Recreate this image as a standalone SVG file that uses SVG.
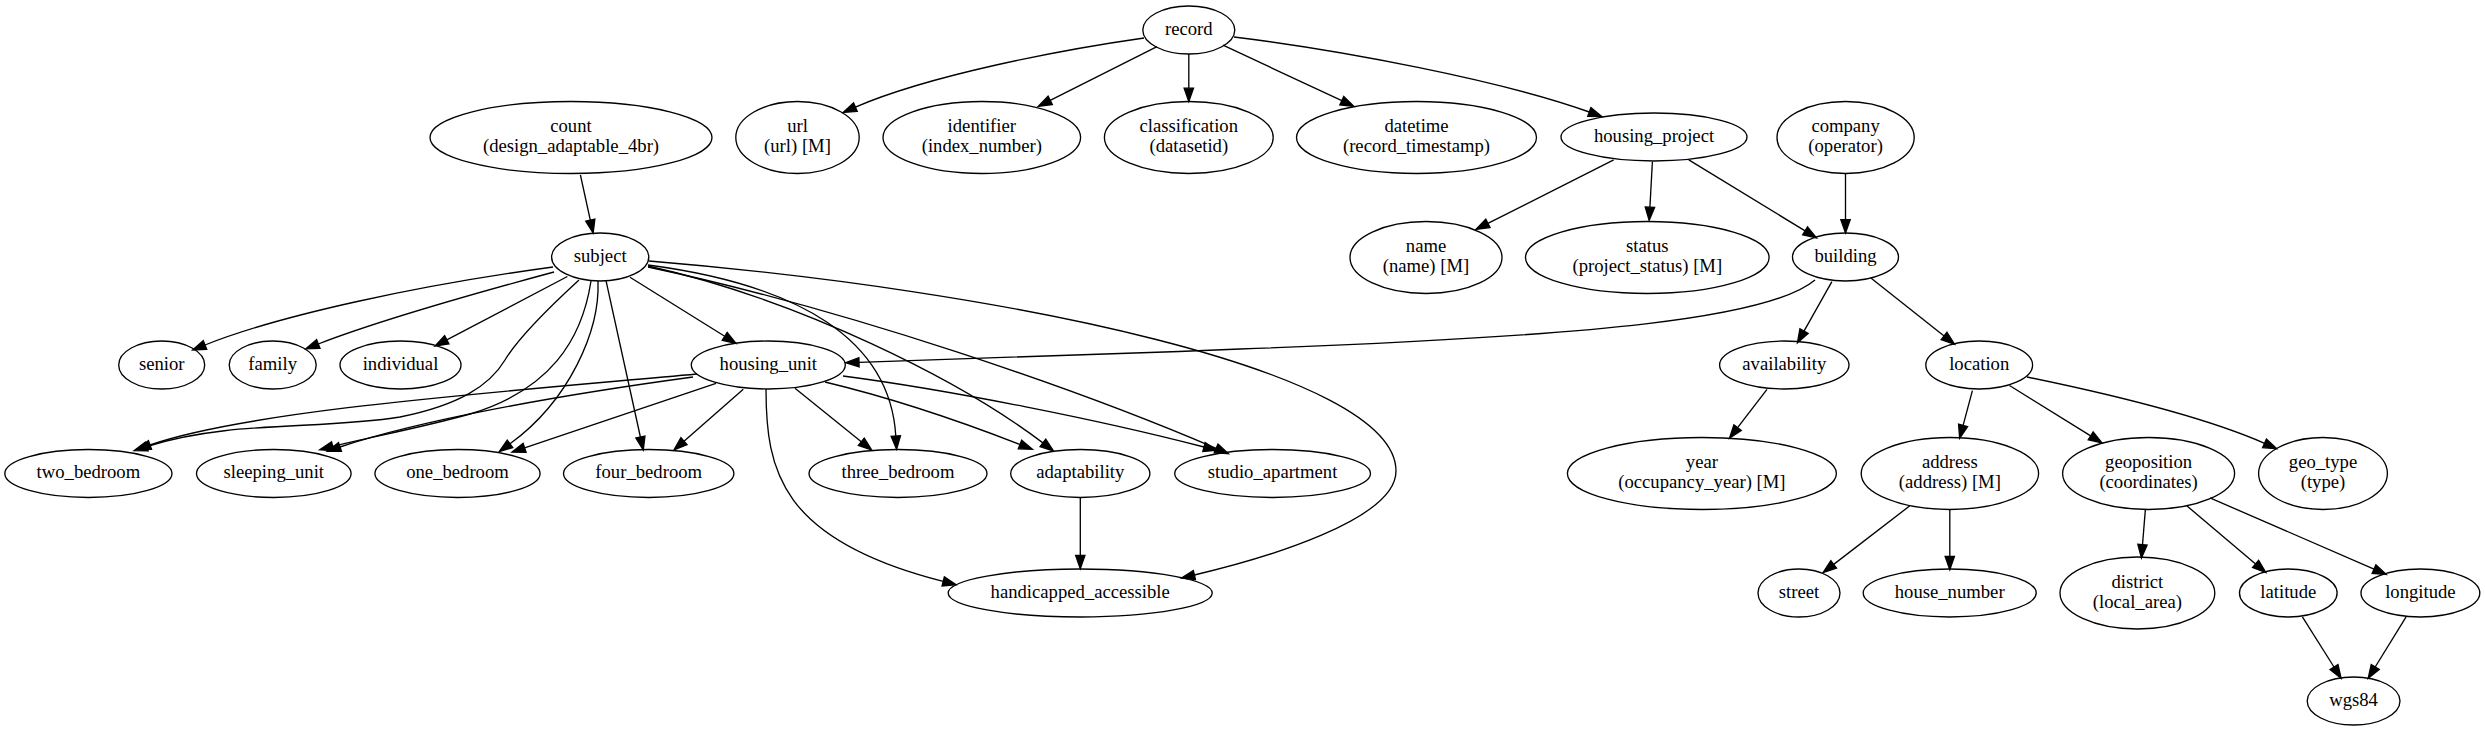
<svg xmlns="http://www.w3.org/2000/svg" width="2485" height="731" viewBox="0 0 2485 731">
<style>
.n ellipse{fill:none;stroke:#000;stroke-width:1.33}
.n text{font-family:"Liberation Serif","Times New Roman",serif;font-size:18.67px;text-anchor:middle;fill:#000}
#edges path{fill:none;stroke:#000;stroke-width:1.33;marker-end:url(#ah)}
</style>
<defs>
<marker id="ah" markerUnits="userSpaceOnUse" viewBox="0 0 14 10" markerWidth="14" markerHeight="10" refX="0" refY="5" orient="auto" overflow="visible">
<path d="M0,0.33 L13.33,5 L0,9.67 z" fill="#000" stroke="#000" stroke-width="1.33"/>
</marker>
</defs>
<rect width="2485" height="731" fill="#fff"/>
<g id="edges">
<path d="M1144,38 C1060,50 930,75 855.4,107.1"/>
<path d="M1157,46.6 L1050.2,100.3"/>
<path d="M1188.8,54 L1188.8,88.2"/>
<path d="M1223,45.2 L1341.8,100.7"/>
<path d="M1234,37 C1340,50 1500,80 1589.3,112"/>
<path d="M580.4,174.8 L590.3,220.1"/>
<path d="M1613.7,159.9 L1487.9,223.4"/>
<path d="M1652.4,161.8 L1649.9,207.2"/>
<path d="M1688.8,159.9 L1805.1,230.9"/>
<path d="M1845.5,173.5 L1845.5,219.7"/>
<path d="M1831.9,281.6 L1804,331.1"/>
<path d="M1871.2,278.3 L1944.1,335.9"/>
<path d="M1815,280 C1770,318 1600,336 1240,349 C1100,355 950,360 859,362.3"/>
<path d="M1767,389.3 L1737.6,427.6"/>
<path d="M1972.4,390.7 L1963.1,425.4"/>
<path d="M2009.5,385.5 L2090.7,435.9"/>
<path d="M2027,377 C2100,392 2200,415 2264.5,443.3"/>
<path d="M1909.8,505.8 L1833.7,564.4"/>
<path d="M1949.8,509.5 L1949.8,556.4"/>
<path d="M2145.4,509.1 L2142.5,544.7"/>
<path d="M2186.8,505.8 L2255.6,563.9"/>
<path d="M2210,497.9 L2374,569.1"/>
<path d="M2302.4,616.8 L2334,667"/>
<path d="M2406.1,616.8 L2375.2,667"/>
<path d="M1080.3,497.8 L1080.3,555.4"/>
<path d="M553,267 C420,285 280,315 205,345"/>
<path d="M554,272 C480,292 380,320 318.3,344"/>
<path d="M567.4,276.5 L446.8,339.8"/>
<path d="M630,277.3 L724.7,336.3"/>
<path d="M579,280 C555,302 520,335 505,360 C490,385 460,405 400,417 C320,430 230,420 146.8,446.5"/>
<path d="M591,281 C582,340 550,390 470,414 C420,428 370,437 332.7,446.4"/>
<path d="M598,281 C600,330 570,400 510,443.8"/>
<path d="M606,280.7 L640.4,437"/>
<path d="M648,265 C800,285 890,340 895.8,436"/>
<path d="M648,266 C800,300 960,380 1042.9,442.9"/>
<path d="M648,267 C850,310 1080,390 1216.1,448.4"/>
<path d="M649,261 C1000,290 1396,370 1396,471 C1396,520 1264.4,558.5 1194.4,575"/>
<path d="M697,374 C500,392 250,410 150,445"/>
<path d="M693,377 C560,395 420,420 340,447"/>
<path d="M716,383.3 L524.6,447.8"/>
<path d="M743.3,389.3 L684,441.2"/>
<path d="M795,388.3 L861.3,441.7"/>
<path d="M825,382 C900,400 970,425 1020,444.5"/>
<path d="M843,376 C950,390 1100,420 1204,447"/>
<path d="M766,389 C766,470 780,540 943.2,581.4"/>
</g>
<g id="n_record" class="n"><ellipse cx="1188.8" cy="30" rx="46" ry="24"/><text x="1188.8" y="34.9">record</text></g>
<g id="n_count" class="n"><ellipse cx="571" cy="137.5" rx="141" ry="36"/><text x="571" y="132.4">count</text><text x="571" y="152.4">(design_adaptable_4br)</text></g>
<g id="n_url" class="n"><ellipse cx="797.5" cy="137.5" rx="61.7" ry="36"/><text x="797.5" y="132.4">url</text><text x="797.5" y="152.4">(url) [M]</text></g>
<g id="n_identifier" class="n"><ellipse cx="981.8" cy="137.5" rx="98.8" ry="36"/><text x="981.8" y="132.4">identifier</text><text x="981.8" y="152.4">(index_number)</text></g>
<g id="n_classification" class="n"><ellipse cx="1188.8" cy="137.5" rx="84.4" ry="36"/><text x="1188.8" y="132.4">classification</text><text x="1188.8" y="152.4">(datasetid)</text></g>
<g id="n_datetime" class="n"><ellipse cx="1416.5" cy="137.5" rx="120" ry="36"/><text x="1416.5" y="132.4">datetime</text><text x="1416.5" y="152.4">(record_timestamp)</text></g>
<g id="n_housing_project" class="n"><ellipse cx="1654" cy="137" rx="93" ry="24"/><text x="1654" y="141.9">housing_project</text></g>
<g id="n_company" class="n"><ellipse cx="1845.6" cy="137.5" rx="68.6" ry="36"/><text x="1845.6" y="132.4">company</text><text x="1845.6" y="152.4">(operator)</text></g>
<g id="n_subject" class="n"><ellipse cx="600.2" cy="257" rx="48.6" ry="24"/><text x="600.2" y="261.9">subject</text></g>
<g id="n_name" class="n"><ellipse cx="1426" cy="257.5" rx="76" ry="36"/><text x="1426" y="252.4">name</text><text x="1426" y="272.4">(name) [M]</text></g>
<g id="n_status" class="n"><ellipse cx="1647.3" cy="257.5" rx="121.8" ry="36"/><text x="1647.3" y="252.4">status</text><text x="1647.3" y="272.4">(project_status) [M]</text></g>
<g id="n_building" class="n"><ellipse cx="1845.5" cy="257" rx="53" ry="24"/><text x="1845.5" y="261.9">building</text></g>
<g id="n_senior" class="n"><ellipse cx="161.7" cy="365" rx="43" ry="24"/><text x="161.7" y="369.9">senior</text></g>
<g id="n_family" class="n"><ellipse cx="272.7" cy="365" rx="43.5" ry="24"/><text x="272.7" y="369.9">family</text></g>
<g id="n_individual" class="n"><ellipse cx="400.5" cy="365" rx="60.5" ry="24"/><text x="400.5" y="369.9">individual</text></g>
<g id="n_housing_unit" class="n"><ellipse cx="768.3" cy="365" rx="77" ry="24"/><text x="768.3" y="369.9">housing_unit</text></g>
<g id="n_availability" class="n"><ellipse cx="1784.3" cy="365" rx="64.7" ry="24"/><text x="1784.3" y="369.9">availability</text></g>
<g id="n_location" class="n"><ellipse cx="1979.2" cy="365" rx="53.4" ry="24"/><text x="1979.2" y="369.9">location</text></g>
<g id="n_two_bedroom" class="n"><ellipse cx="88.4" cy="473.5" rx="83.6" ry="24"/><text x="88.4" y="478.4">two_bedroom</text></g>
<g id="n_sleeping_unit" class="n"><ellipse cx="273.8" cy="473.5" rx="77.3" ry="24"/><text x="273.8" y="478.4">sleeping_unit</text></g>
<g id="n_one_bedroom" class="n"><ellipse cx="457.5" cy="473.5" rx="82.6" ry="24"/><text x="457.5" y="478.4">one_bedroom</text></g>
<g id="n_four_bedroom" class="n"><ellipse cx="648.7" cy="473.5" rx="85.2" ry="24"/><text x="648.7" y="478.4">four_bedroom</text></g>
<g id="n_three_bedroom" class="n"><ellipse cx="898" cy="473.5" rx="89" ry="24"/><text x="898" y="478.4">three_bedroom</text></g>
<g id="n_adaptability" class="n"><ellipse cx="1080.3" cy="473.5" rx="69.6" ry="24"/><text x="1080.3" y="478.4">adaptability</text></g>
<g id="n_studio_apartment" class="n"><ellipse cx="1272.6" cy="473.5" rx="97.9" ry="24"/><text x="1272.6" y="478.4">studio_apartment</text></g>
<g id="n_year" class="n"><ellipse cx="1701.9" cy="473.5" rx="134.5" ry="36"/><text x="1701.9" y="468.4">year</text><text x="1701.9" y="488.4">(occupancy_year) [M]</text></g>
<g id="n_address" class="n"><ellipse cx="1949.9" cy="473.5" rx="88.7" ry="36"/><text x="1949.9" y="468.4">address</text><text x="1949.9" y="488.4">(address) [M]</text></g>
<g id="n_geoposition" class="n"><ellipse cx="2148.6" cy="473.5" rx="86" ry="36"/><text x="2148.6" y="468.4">geoposition</text><text x="2148.6" y="488.4">(coordinates)</text></g>
<g id="n_geo_type" class="n"><ellipse cx="2323" cy="473.5" rx="64.4" ry="36"/><text x="2323" y="468.4">geo_type</text><text x="2323" y="488.4">(type)</text></g>
<g id="n_handicapped_accessible" class="n"><ellipse cx="1080.2" cy="593" rx="132" ry="24"/><text x="1080.2" y="597.9">handicapped_accessible</text></g>
<g id="n_street" class="n"><ellipse cx="1799" cy="593" rx="41" ry="24"/><text x="1799" y="597.9">street</text></g>
<g id="n_house_number" class="n"><ellipse cx="1949.7" cy="593" rx="86.5" ry="24"/><text x="1949.7" y="597.9">house_number</text></g>
<g id="n_district" class="n"><ellipse cx="2137.4" cy="593" rx="77.4" ry="36"/><text x="2137.4" y="587.9">district</text><text x="2137.4" y="607.9">(local_area)</text></g>
<g id="n_latitude" class="n"><ellipse cx="2288.3" cy="593" rx="48.8" ry="24"/><text x="2288.3" y="597.9">latitude</text></g>
<g id="n_longitude" class="n"><ellipse cx="2420.4" cy="593" rx="59.4" ry="24"/><text x="2420.4" y="597.9">longitude</text></g>
<g id="n_wgs84" class="n"><ellipse cx="2353.6" cy="701" rx="46.4" ry="24"/><text x="2353.6" y="705.9">wgs84</text></g>
</svg>
